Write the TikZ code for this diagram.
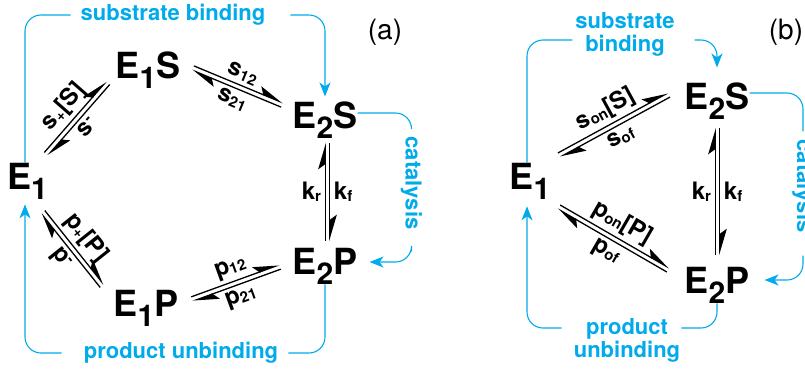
\documentclass[tikz,border=0pt]{standalone}
\usepackage{fontspec}
\setmainfont{TeX Gyre Heros}
\usetikzlibrary{arrows.meta, calc}
\definecolor{flowblue}{RGB}{0,170,235}

\newcommand{\sub}[1]{\raisebox{-10pt}{\fontsize{30}{30}\selectfont #1}}
\newcommand{\lo}[1]{\raisebox{-2pt}{\fontsize{15}{15}\selectfont #1}}
\newcommand{\up}[1]{\raisebox{7pt}{\fontsize{15}{15}\selectfont #1}}
% two opposite harpoons between two points
\newcommand{\eqpair}[4]{%
  \draw[fwd] ($#1!2.3pt!90:#2$) -- ($#2!2.3pt!-90:#1$)
    node[rate, midway, fwdlabel] {#3};
  \draw[bwd] ($#1!2.3pt!-90:#2$) -- ($#2!2.3pt!90:#1$)
    node[rate, midway, bwdlabel] {#4};
}

\begin{document}
\begin{tikzpicture}[x=1pt, y=-1pt,
    state/.style={inner sep=0pt, font=\fontsize{36}{36}\selectfont\bfseries},
    rate/.style={inner sep=3.5pt, font=\fontsize{24}{24}\selectfont\bfseries},
    flowtext/.style={text=flowblue, inner ysep=2pt, align=center,
        font=\fontsize{22}{23}\selectfont\bfseries},
    panel/.style={inner sep=0pt, font=\fontsize{28}{28}\selectfont},
    flow/.style={draw=flowblue, line width=1.1pt, rounded corners=16pt,
        -{Stealth[length=14pt, width=11pt, inset=4pt]}},
    fwd/.style={line width=1.3pt, -{Stealth[harpoon, length=24pt, width=14pt, inset=5pt]}},
    bwd/.style={line width=1.3pt, {Stealth[harpoon, length=24pt, width=14pt, inset=5pt]}-},
    fwdlabel/.style={sloped, above},
    bwdlabel/.style={sloped, below}
]
    \useasboundingbox (0,0) rectangle (805,373);

    % (a) four-state scheme
    \node[state] (E1a) at (27.5,181) {E\sub{1}};
    \node[state] (E1Sa) at (148,70) {E\sub{1}S};
    \node[state] (E2Sa) at (325,120) {E\sub{2}S};
    \node[state] (E2Pa) at (325,266) {E\sub{2}P};
    \node[state] (E1Pa) at (146,308) {E\sub{1}P};
    \node[panel] (taga) at (385,32) {(a)};

    \eqpair{([shift={(18.5,-27)}]E1a.center)}{([shift={(-40,13)}]E1Sa.center)}{s\lo{+}[S]}{s\up{-}}
    \eqpair{([shift={(45,-2)}]E1Sa.center)}{([shift={(-43,-15)}]E2Sa.center)}{s\lo{12}}{s\lo{21}}
    \eqpair{([shift={(46,-9)}]E1Pa.center)}{([shift={(-45,1)}]E2Pa.center)}{p\lo{12}}{p\lo{21}}
    \eqpair{([shift={(15.5,31)}]E1a.center)}{([shift={(-44,-22)}]E1Pa.center)}{p\lo{+}[P]}{p\up{-}}
    \begin{scope}[fwdlabel/.style={right}, bwdlabel/.style={left}]
        \eqpair{([shift={(2.5,23)}]E2Sa.center)}{([shift={(2.5,-25)}]E2Pa.center)}{k\lo{f}}{k\lo{r}}
    \end{scope}

    \node[flowtext, inner xsep=10pt] (subA) at (173,15) {substrate binding};
    \node[flowtext, rotate=-90, inner xsep=8pt] (catA) at (411.5,183) {catalysis};
    \node[flowtext, inner xsep=10pt] (prodA) at (181,353) {product unbinding};
    \draw[flow, shorten <=15pt, shorten >=5pt] ([xshift=-2.5pt]E1a.north) |- (subA) -| (E2Sa);
    \draw[flow, shorten <=14pt, shorten >=12pt] ([yshift=7pt]E2Sa.east) -| (catA) |- ([yshift=4pt]E2Pa.east);
    \draw[flow, shorten <=12pt, shorten >=5pt] (E2Pa) |- (prodA) -| ([xshift=-2.5pt]E1a.south);

    % (b) three-state scheme
    \node[state] (E1b) at (530,181) {E\sub{1}};
    \node[state] (E2Sb) at (717,101) {E\sub{2}S};
    \node[state] (E2Pb) at (717,285) {E\sub{2}P};
    \node[panel] (tagb) at (786,32) {(b)};

    \eqpair{([shift={(29,-26)}]E1b.center)}{([shift={(-48,-6)}]E2Sb.center)}{s\lo{on}[S]}{s\lo{of}}
    \eqpair{([shift={(29,26)}]E1b.center)}{([shift={(-49,-15)}]E2Pb.center)}{p\lo{on}[P]}{p\lo{of}}
    \begin{scope}[fwdlabel/.style={right}, bwdlabel/.style={left}]
        \eqpair{([shift={(0.5,27)}]E2Sb.center)}{([shift={(0.5,-30)}]E2Pb.center)}{k\lo{f}}{k\lo{r}}
    \end{scope}

    \node[flowtext, inner xsep=3pt] (subB) at (625,34) {substrate\\binding};
    \node[flowtext, inner xsep=1pt] (prodB) at (627,340) {product\\unbinding};
    \node[flowtext, rotate=-90, inner xsep=8pt] (catB) at (803,186) {catalysis};
    \draw[flow, shorten <=17pt, shorten >=15pt] ([xshift=-3pt]E1b.north) |- ([yshift=-6pt]subB.west)
        ([yshift=-6pt]subB.east) -| (E2Sb);
    \draw[flow, shorten <=15pt, shorten >=15pt] ([yshift=8pt]E2Sb.east) -| (catB) |- ([yshift=5pt]E2Pb.east);
    \draw[flow, shorten <=11pt, shorten >=7pt] (E2Pb) |- ([yshift=12pt]prodB.east)
        ([yshift=12pt]prodB.west) -| ([xshift=-3pt]E1b.south);
\end{tikzpicture}
\end{document}
